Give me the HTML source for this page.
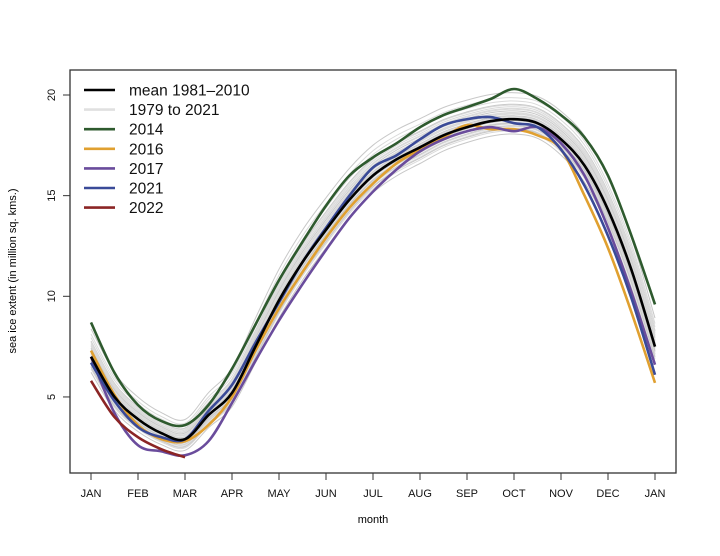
<!DOCTYPE html>
<html><head><meta charset="utf-8"><style>
body{margin:0;background:#fff}
svg{display:block;font-family:"Liberation Sans",Arial,sans-serif}
</style></head><body>
<svg width="720" height="556" viewBox="0 0 720 556">
<g id="plot"></g>
<rect x="70" y="70" width="606" height="403" fill="none" stroke="#333" stroke-width="1.3"/>
<g id="axes" font-size="11" fill="#111"></g>
<text x="373" y="523" font-size="11" text-anchor="middle">month</text>
<text transform="translate(16,271) rotate(-90)" font-size="11" text-anchor="middle">sea ice extent (in million sq. kms.)</text>
<g id="legend" font-size="15.5" fill="#111"></g>
</svg>
<script>
const months = ["JAN","FEB","MAR","APR","MAY","JUN","JUL","AUG","SEP","OCT","NOV","DEC","JAN"];
const yTicks = [5,10,15,20];
const meanVals = [7.0,5.0,3.9,3.2,2.9,4.1,5.2,7.5,9.8,11.7,13.3,14.8,16.0,16.8,17.4,18.0,18.4,18.7,18.8,18.6,17.8,16.5,14.3,11.3,7.5];
const y2014 = [8.7,6.2,4.6,3.8,3.6,4.6,6.4,8.6,10.8,12.7,14.5,16.0,16.9,17.6,18.4,19.0,19.4,19.8,20.3,19.8,19.0,17.9,16.0,13.0,9.6];
const y2016 = [7.3,5.1,3.6,2.9,2.8,3.6,5.0,7.3,9.4,11.2,12.9,14.4,15.6,16.6,17.3,17.9,18.5,18.3,18.3,18.0,17.3,15.0,12.4,9.2,5.7];
const y2017 = [7.0,4.2,2.6,2.3,2.1,2.8,4.7,6.8,8.8,10.6,12.3,13.9,15.2,16.3,17.2,17.8,18.2,18.4,18.2,18.4,17.6,16.0,13.4,10.2,6.6];
const y2021 = [6.7,4.8,3.5,3.0,2.9,4.3,5.6,7.7,9.7,11.7,13.4,15.0,16.4,17.0,17.8,18.5,18.8,18.9,18.6,18.4,17.3,15.5,13.0,9.9,6.1];
const y2022 = [5.8,4.0,3.0,2.4,2.0];
const grayOffsets = [-0.9,-0.7,-0.55,-0.4,-0.3,-0.2,-0.1,0,0.1,0.2,0.3,0.4,0.5,0.6,0.75,0.9,1.1,1.3,-0.6,0.15,0.35,-0.25,0.65,0.85,1.6,-0.45];

const X0=91, XW=47, Y20=95, YU=20.13;
const xs = t => X0 + t*XW;
const ys = v => Y20 + (20-v)*YU;
const NS="http://www.w3.org/2000/svg";
function mk(tag, attrs, parent){const e=document.createElementNS(NS,tag);for(const k in attrs)e.setAttribute(k,attrs[k]);parent.appendChild(e);return e;}
function pathD(vals){
  const p = vals.map((v,i)=>[xs(i*0.5), ys(v)]);
  let d = "M"+p[0][0]+","+p[0][1];
  for(let i=0;i<p.length-1;i++){
    const a=p[Math.max(i-1,0)], b=p[i], c=p[i+1], e=p[Math.min(i+2,p.length-1)];
    const c1=[b[0]+(c[0]-a[0])/6, b[1]+(c[1]-a[1])/6], c2=[c[0]-(e[0]-b[0])/6, c[1]-(e[1]-b[1])/6];
    d+=" C"+c1[0].toFixed(1)+","+c1[1].toFixed(1)+" "+c2[0].toFixed(1)+","+c2[1].toFixed(1)+" "+c[0].toFixed(1)+","+c[1].toFixed(1);
  }
  return d;
}
const plot=document.getElementById('plot');
grayOffsets.forEach((o,k)=>{
  const vals = meanVals.map(v=>v+o*(0.4+0.6*Math.sin(Math.PI*v/25)));
  const el=mk('path',{d:pathD(vals),fill:'none',stroke:k%3==0?'#c8c8c8':'#dadada','stroke-width':1},plot);
  
  
});
const series=[["2014",y2014,"#2e5a2e"],["2016",y2016,"#e0a030"],["2017",y2017,"#6a4c9c"],["2021",y2021,"#3a4a98"],["2022",y2022,"#8b2525"],["mean",meanVals,"#000"]];
series.forEach(s=>{
  const el=mk('path',{d:pathD(s[1]),fill:'none',stroke:s[2],'stroke-width':2.6,'stroke-linejoin':'round'},plot);
  
  
});
const axes=document.getElementById('axes');
months.forEach((m,i)=>{
  const x=xs(i);
  const t=mk('line',{x1:x,x2:x,y1:473,y2:480,stroke:'#333'},axes);
  
  
  const l=mk('text',{x:x,y:497,'text-anchor':'middle'},axes); l.textContent=m;
  
  
});
yTicks.forEach(v=>{
  const y=ys(v);
  const t=mk('line',{x1:63,x2:70,y1:y,y2:y,stroke:'#333'},axes);
  
  
  const l=mk('text',{transform:`translate(55,${y}) rotate(-90)`,'text-anchor':'middle'},axes); l.textContent=v;
  
  
});
const legend=document.getElementById('legend');
const items=[["mean 1981\u20132010","#000"],["1979 to 2021","#e0e0e0"],["2014","#2e5a2e"],["2016","#e0a030"],["2017","#6a4c9c"],["2021","#3a4a98"],["2022","#8b2525"]];
items.forEach((it,i)=>{
  const y=90+i*19.6;
  const ln=mk('line',{x1:84,x2:115,y1:y,y2:y,stroke:it[1],'stroke-width':2.6},legend);
  
  
  const tx=mk('text',{x:129,y:y+5.5},legend); tx.textContent=it[0];
  
  
});
</script>
</body></html>
